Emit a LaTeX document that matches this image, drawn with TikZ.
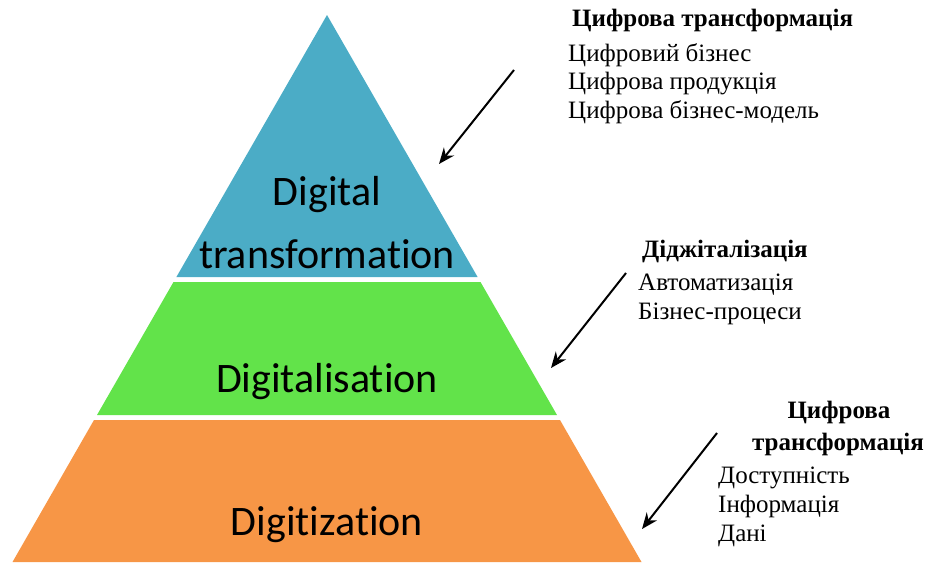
\documentclass[tikz,border=0pt]{standalone}
\usepackage{fontspec}
\setmainfont{Liberation Serif}
\newfontfamily\tierfont[Ligatures={NoCommon}]{Carlito}
\usetikzlibrary{arrows.meta}
\definecolor{tierblue}{HTML}{4BACC6}
\definecolor{tiergreen}{HTML}{62E34A}
\definecolor{tierorange}{HTML}{F79646}
\tikzset{
  tiertext/.style={font=\tierfont\fontsize{42}{50}\selectfont, anchor=base, inner sep=0pt},
  headtext/.style={font=\fontsize{25}{29}\selectfont\bfseries, anchor=base west, inner sep=0pt},
  itemtext/.style={font=\fontsize{25}{29}\selectfont, anchor=base west, inner sep=0pt},
  pointer/.style={line width=2pt, -{Stealth[length=16pt,width=13pt]}}
}
\begin{document}
\begin{tikzpicture}[x=1pt,y=-1pt]
\useasboundingbox (0,0) rectangle (925,562);
% tiers (slope 0.575, apex at 327,15)
\fill[tierblue] (327,15) -- (477.6,277) -- (176.4,277) -- cycle;
\fill[tiergreen] (173.5,282) -- (480.5,282) -- (557,415) -- (97,415) -- cycle;
\fill[tierorange] (94,420) -- (560,420) -- (641.5,562) -- (12.5,562) -- cycle;
% tier labels
\node[tiertext] (t1a) at (327,205) {Digital};
\node[tiertext] (t1b) at (327,268) {transformation};
\node[tiertext] (t2) at (327,392) {Digitalisation};
\node[tiertext] (t3) at (327,535) {Digitization};
% block 1
\node[headtext] (h1) at (572,27) {Цифрова трансформація};
\node[itemtext] (a1) at (568,61) {Цифровий бізнес};
\node[itemtext] (a2) at (568,89) {Цифрова продукція};
\node[itemtext] (a3) at (568,118) {Цифрова бізнес-модель};
% block 2
\node[headtext] (h2) at (642,257) {Діджіталізація};
\node[itemtext] (b1) at (638,290) {Автоматизація};
\node[itemtext] (b2) at (638,319) {Бізнес-процеси};
% block 3
\node[headtext, anchor=base] (h3a) at (839,418) {Цифрова};
\node[headtext, anchor=base] (h3b) at (838,450) {трансформація};
\node[itemtext] (c1) at (718,483) {Доступність};
\node[itemtext] (c2) at (718,512) {Інформація};
\node[itemtext] (c3) at (718,541) {Дані};
% arrows
\coordinate (p1s) at (514,70);
\coordinate (p1e) at (439,164);
\coordinate (p2s) at (626,273);
\coordinate (p2e) at (551,368);
\coordinate (p3s) at (717,433);
\coordinate (p3e) at (642,529);
\draw[pointer] (p1s) -- (p1e);
\draw[pointer] (p2s) -- (p2e);
\draw[pointer] (p3s) -- (p3e);
\end{tikzpicture}
\end{document}
